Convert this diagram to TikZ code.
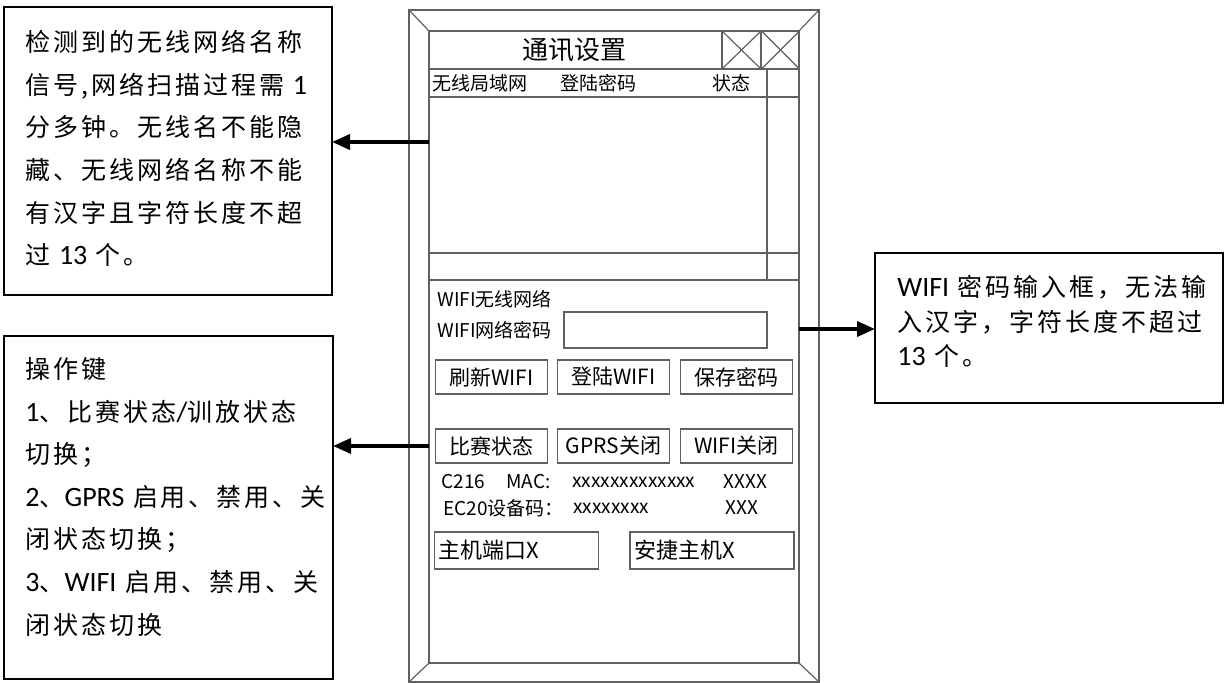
\documentclass[tikz,border=0pt]{standalone}
\usepackage{fontspec}
\setmainfont{Noto Sans CJK SC}
\newfontfamily\notefont[LetterSpace=12]{Noto Sans CJK SC}
\newfontfamily\latfont[Scale=1.12]{Carlito}
\usetikzlibrary{arrows.meta}

\tikzset{
  wire/.style={draw=gray!75!black,line width=0.6pt},
  frame/.style={wire,outer sep=0pt,inner sep=0pt},
  ui/.style={inner sep=0pt,anchor=west,font=\fontsize{9.5}{11}\selectfont},
  btn/.style={wire,minimum width=56pt,minimum height=17pt,inner sep=0pt,font=\fontsize{10.5}{12}\selectfont},
  host/.style={wire,text width=78pt,inner xsep=2pt,minimum height=18.5pt,align=left,font=\fontsize{11}{13}\selectfont},
  note/.style={draw,line width=0.8pt,inner sep=0pt,outer sep=0pt},
  notetext/.style={inner sep=0pt,anchor=north west,align=left,font=\notefont\fontsize{12.5}{21.3}\selectfont},
  arr/.style={-{Triangle[length=9pt,width=7.5pt]},line width=1.8pt}
}

\begin{document}
\begin{tikzpicture}[x=0.5pt,y=-0.5pt]
\useasboundingbox (0,0) rectangle (1231,683);
%% screen frame
\node (outer) at (614,346) [frame,minimum width=205pt,minimum height=336pt] {};
\node (screen) at (614,347) [frame,minimum width=185pt,minimum height=316pt] {};
\draw [wire] (outer.north west) -- (screen.north west);
\draw [wire] (outer.north east) -- (screen.north east);
\draw [wire] (outer.south west) -- (screen.south west);
\draw [wire] (outer.south east) -- (screen.south east);
%
\draw [wire] (429,69) -- (799,69);
\draw [wire] (429,97) -- (799,97);
\draw [wire] (429,253) -- (799,253);
\draw [wire] (429,280) -- (799,280);
\draw [wire] (767,69) -- (767,280);
%
\node (close1) at (741.5,50) [frame,minimum width=19.5pt,minimum height=19pt] {};
\node (close2) at (780.5,50) [frame,minimum width=19pt,minimum height=19pt] {};
\draw [wire] (close1.north west) -- (close1.south east);
\draw [wire] (close1.south west) -- (close1.north east);
\draw [wire] (close2.north west) -- (close2.south east);
\draw [wire] (close2.south west) -- (close2.north east);
%
\node (title) at (574,50) [inner sep=0pt,font=\fontsize{13}{15}\selectfont] {通讯设置};
\node (colnet) at (432,83) [ui] {无线局域网};
\node (colpwd) at (560,83) [ui] {登陆密码};
\node (colstate) at (712,83) [ui] {状态};
%%
\node (wifinet) at (437,299) [ui] {WIFI无线网络};
\node (wifipwd) at (437,330) [ui] {WIFI网络密码};
\node (pwdbox) at (665.5,330) [frame,minimum width=101.5pt,minimum height=18pt] {};
%
\node (refresh) at (491.5,377) [btn] {刷新WIFI};
\node (login) at (613.5,377) [btn] {登陆WIFI};
\node (save) at (736.5,377) [btn] {保存密码};
\node (match) at (491.5,446) [btn] {比赛状态};
\node (gprs) at (613.5,446) [btn] {GPRS关闭};
\node (wifi) at (736.5,446) [btn] {WIFI关闭};
%
\node (c216) at (441,482) [ui] {C216};
\node (mac) at (506,482) [ui] {MAC:};
\node (macval) at (572,482) [ui] {xxxxxxxxxxxxx};
\node (macend) at (723,482) [ui] {XXXX};
\node (ec20) at (443,508) [ui] {EC20设备码：};
\node (ec20val) at (573,508) [ui] {xxxxxxxx};
\node (ec20end) at (725,508) [ui] {XXX};
%
\node (hostport) at (516.5,550.5) [host] {主机端口X};
\node (hostagile) at (712,550.5) [host] {安捷主机X};
%% notes
\node (scanbox) at (168,151) [note,minimum width=164pt,minimum height=144pt] {};
\node (scantext) at (25,30) [notetext] {检测到的无线网络名称\\信号,网络扫描过程需 {\latfont 1}\\分多钟。无线名不能隐\\藏、无线网络名称不能\\有汉字且字符长度不超\\过 {\latfont 13} 个。};
%
\node (keybox) at (168.5,507.5) [note,minimum width=164.5pt,minimum height=171.5pt] {};
\node (keytext) at (25,357) [notetext] {操作键\\{\latfont 1}、比赛状态{\latfont /}训放状态\\切换；\\{\latfont 2}、{\latfont GPRS} 启用、禁用、关\\闭状态切换；\\{\latfont 3}、{\latfont WIFI} 启用、禁用、关\\闭状态切换};
%
\node (pwdnote) at (1049,328) [note,minimum width=174pt,minimum height=75pt] {};
\node (pwdtext) at (897,275) [notetext,font=\notefont\fontsize{12.5}{17.25}\selectfont] {{\latfont WIFI} 密码输入框，无法输\\入汉字，字符长度不超过\\{\latfont 13} 个。};
%% arrows
\coordinate (scanpt) at (429,142);
\coordinate (keypt) at (429,446);
\coordinate (pwdpt) at (799,329);
\draw [arr] (scanpt) -- (scanpt -| scanbox.east);
\draw [arr] (keypt) -- (keypt -| keybox.east);
\draw [arr] (pwdpt) -- (pwdpt -| pwdnote.west);
\end{tikzpicture}
\end{document}
